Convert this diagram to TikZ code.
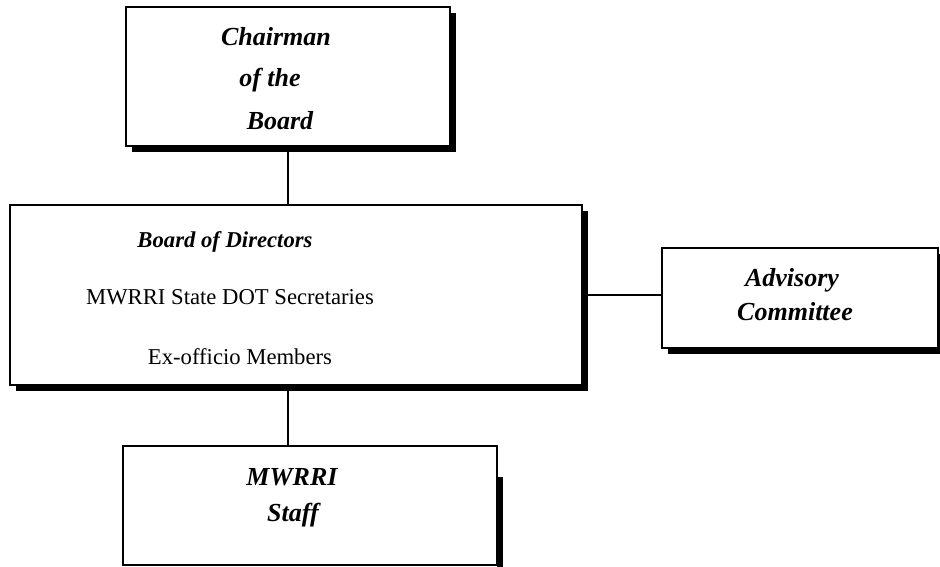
\documentclass[tikz,border=0pt]{standalone}
\usepackage{fontspec}
\setmainfont{Liberation Serif}
\usetikzlibrary{positioning,backgrounds}
\tikzstyle{orgbox} = [rectangle, draw=black, line width=1pt, fill=white, inner sep=0pt, outer sep=0pt, anchor=north west]
\tikzstyle{boxshade} = [fill=black]
\tikzstyle{title} = [font=\fontsize{19.5}{23}\selectfont\bfseries\itshape, inner sep=0pt]
\tikzstyle{subtitle} = [font=\fontsize{17}{20}\selectfont\bfseries\itshape, inner sep=0pt]
\tikzstyle{plain} = [font=\fontsize{17}{20}\selectfont, inner sep=0pt]
\tikzstyle{link} = [line width=1pt]

\begin{document}
\begin{tikzpicture}[x=0.75pt,y=-0.75pt]
	\clip (0,0) rectangle (940,567);
	\node[orgbox, minimum width=243pt, minimum height=104.25pt] (chair) at (126,7) {};
	\node[orgbox, minimum width=429pt, minimum height=135pt] (board) at (10,205) {};
	\node[orgbox, minimum width=207pt, minimum height=75pt] (adv) at (662,248) {};
	\node[orgbox, minimum width=280.5pt, minimum height=89.25pt] (staff) at (123,446) {};
	\begin{scope}[on background layer]
	\fill[boxshade] ([shift={(6,6)}]chair.north west) rectangle ([shift={(6,6)}]chair.south east);
	\fill[boxshade] ([shift={(6,6)}]board.north west) rectangle ([shift={(6,6)}]board.south east);
	\fill[boxshade] ([shift={(6,6)}]adv.north west) rectangle ([shift={(6,6)}]adv.south east);
	\fill[boxshade] ([shift={(0,31)}]staff.north east) rectangle ([shift={(6,6)}]staff.south east);
	\end{scope}
	\draw[link] (chair.south) -- (chair.south |- board.north);
	\draw[link] (chair.south |- board.south) -- (chair.south |- staff.north);
	\draw[link] (board.east) -- (board.east -| adv.west);
	\foreach \t/\x/\y [count=\i] in {Chairman/276/37, of the/270/80, Board/280/121}
	\node[title] (ch\i) at (\x,\y) {\t};
	\node[subtitle] (bd1) at (225,242) {Board of Directors};
	\node[plain] (bd2) at (230,297) {MWRRI State DOT Secretaries};
	\node[plain] (bd3) at (240,357) {Ex-officio Members};
	\node[title] (ad1) at (792,280) {Advisory};
	\node[title] (ad2) at (795,312) {Committee};
	\node[title] (st1) at (292,477) {MWRRI};
	\node[title] (st2) at (293,515) {Staff};
\end{tikzpicture}
\end{document}
